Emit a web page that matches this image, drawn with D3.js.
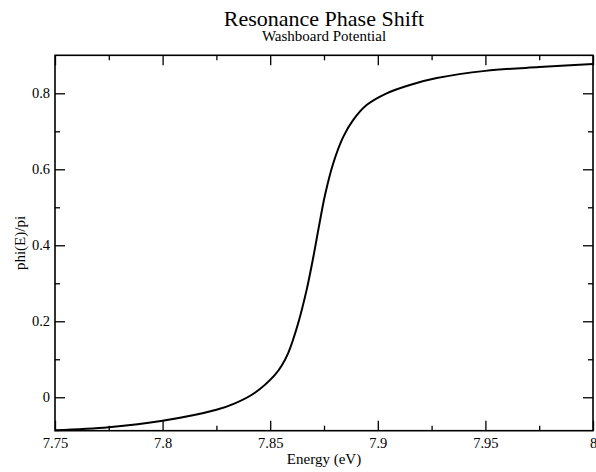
<!DOCTYPE html>
<html>
<head>
<meta charset="utf-8">
<script src="https://cdn.jsdelivr.net/npm/d3@7"></script>
<style>
  html, body { margin: 0; padding: 0; background: #fff; }
  svg { display: block; }
  svg text { font-family: "Liberation Serif", "Times New Roman", serif !important; fill: #000; }
</style>
</head>
<body>
<svg id="chart" width="596" height="472"></svg>
<script>
// ---- data ----
const energy = [7.750, 7.775, 7.800, 7.825, 7.8336, 7.8429, 7.8522, 7.8553, 7.8584, 7.8630,
                7.8669, 7.8700, 7.8725, 7.8755, 7.8793, 7.8840, 7.8886, 7.8948, 7.9041, 7.9149,
                7.9274, 7.950, 7.975, 8.000];
const phase  = [-0.087, -0.079, -0.062, -0.033, -0.016, 0.012, 0.059, 0.083, 0.117, 0.195,
                0.282, 0.368, 0.445, 0.533, 0.616, 0.686, 0.730, 0.769, 0.800, 0.822,
                0.840, 0.859, 0.869, 0.877];
const xMajorTicks = [7.75, 7.8, 7.85, 7.9, 7.95, 8.0];
const xTickLabels = ["7.75", "7.8", "7.85", "7.9", "7.95", "8"];
const xMinorTicks = [7.775, 7.825, 7.875, 7.925, 7.975];
const yMajorTicks = [0, 0.2, 0.4, 0.6, 0.8];
const yTickLabels = ["0", "0.2", "0.4", "0.6", "0.8"];
const yMinorTicks = [0.1, 0.3, 0.5, 0.7];
const titleText = "Resonance Phase Shift";
const subtitleText = "Washboard Potential";
const xLabel = "Energy (eV)";
const yLabel = "phi(E)/pi";

// ---- layout ----
const L = 55, R = 593, T = 55.3, B = 430.7;
const svg = d3.select("#chart");
const x = d3.scaleLinear().domain([7.75, 8.0]).range([L, R]);
const y = d3.scaleLinear().domain([-0.088, 0.9]).range([B, T]);

const majorLen = 10, minorLen = 5;

// bottom axis (inward ticks)
const gB = svg.append("g").attr("transform", `translate(0,${B})`);
gB.call(d3.axisBottom(x).tickValues(xMajorTicks).tickSizeInner(-majorLen).tickSizeOuter(0)
  .tickPadding(7).tickFormat((d, i) => xTickLabels[i]));
gB.append("g").call(d3.axisBottom(x).tickValues(xMinorTicks).tickSizeInner(-minorLen).tickSizeOuter(0).tickFormat(""));
// top axis
const gT = svg.append("g").attr("transform", `translate(0,${T})`);
gT.call(d3.axisTop(x).tickValues(xMajorTicks).tickSizeInner(-majorLen).tickSizeOuter(0).tickFormat(""));
gT.append("g").call(d3.axisTop(x).tickValues(xMinorTicks).tickSizeInner(-minorLen).tickSizeOuter(0).tickFormat(""));
// left axis
const gL = svg.append("g").attr("transform", `translate(${L},0)`);
gL.call(d3.axisLeft(y).tickValues(yMajorTicks).tickSizeInner(-majorLen).tickSizeOuter(0)
  .tickPadding(5).tickFormat((d, i) => yTickLabels[i]));
gL.append("g").call(d3.axisLeft(y).tickValues(yMinorTicks).tickSizeInner(-minorLen).tickSizeOuter(0).tickFormat(""));
// right axis
const gR = svg.append("g").attr("transform", `translate(${R},0)`);
gR.call(d3.axisRight(y).tickValues(yMajorTicks).tickSizeInner(-majorLen).tickSizeOuter(0).tickFormat(""));
gR.append("g").call(d3.axisRight(y).tickValues(yMinorTicks).tickSizeInner(-minorLen).tickSizeOuter(0).tickFormat(""));

svg.selectAll(".domain").remove();
svg.selectAll(".tick line").attr("stroke", "#000").attr("stroke-width", 1.3);
svg.selectAll(".tick text")
  .style("font-family", '"Liberation Serif", "Times New Roman", serif')
  .style("font-size", "14.5px").style("fill", "#000");

// frame
svg.append("rect").attr("x", L).attr("y", T).attr("width", R - L).attr("height", B - T)
  .attr("fill", "none").attr("stroke", "#000").attr("stroke-width", 1.6);

// curve
const pts = energy.map((e, i) => [e, phase[i]]);
svg.append("path").datum(pts)
  .attr("fill", "none").attr("stroke", "#000").attr("stroke-width", 2)
  .attr("d", d3.line().x(d => x(d[0])).y(d => y(d[1])).curve(d3.curveCatmullRom.alpha(0.5)));

// titles
svg.append("text").attr("x", 324).attr("y", 26).attr("text-anchor", "middle")
  .style("font-size", "22px").text(titleText);
svg.append("text").attr("x", 324).attr("y", 41).attr("text-anchor", "middle")
  .style("font-size", "15px").text(subtitleText);
svg.append("text").attr("x", 324).attr("y", 464).attr("text-anchor", "middle")
  .style("font-size", "15px").text(xLabel);
svg.append("text").attr("transform", `translate(25,${(T + B) / 2}) rotate(-90)`)
  .attr("text-anchor", "middle").style("font-size", "15px").text(yLabel);
</script>
</body>
</html>
